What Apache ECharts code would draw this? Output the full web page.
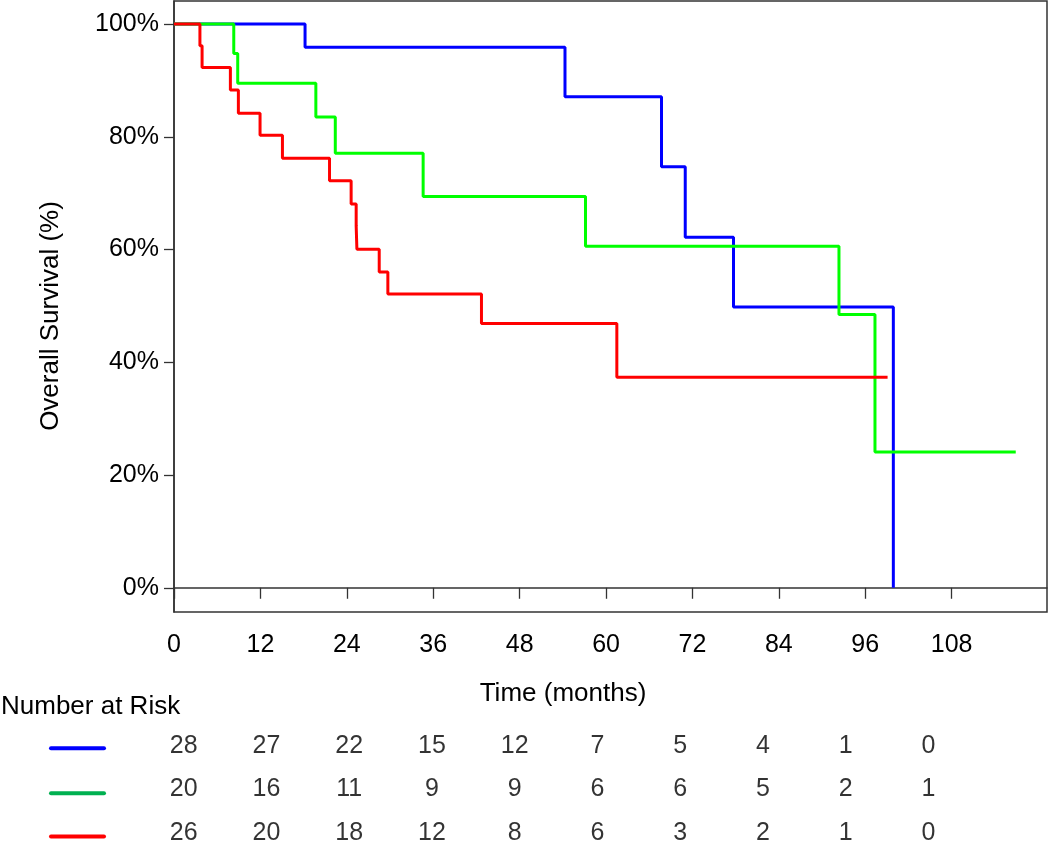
<!DOCTYPE html>
<html>
<head>
<meta charset="utf-8">
<script src="https://cdn.jsdelivr.net/npm/echarts@6/dist/echarts.min.js"></script>
<style>
  html, body { margin: 0; padding: 0; background: #fff; }
  #chart { width: 1050px; height: 841px; }
</style>
</head>
<body>
<div id="chart"></div>
<script>
// ---- Data ----
// Kaplan-Meier step points: [time (months), survival (%)]
const blueCurve = [[0,100],[18.2,95.9],[54.3,87.1],[67.7,74.7],[71.0,62.2],[77.7,49.8],[99.9,0]];
const greenCurve = [[0,100],[8.3,94.8],[8.85,89.5],[19.7,83.5],[22.4,77.1],[34.6,69.4],[57.15,60.6],[92.35,48.5],[97.35,24.1],[116.9,24.1]];
const redCurve = [[0,100],[3.6,96.15],[3.9,92.3],[7.83,88.3],[8.94,84.2],[11.95,80.3],[15.06,76.2],[21.6,72.2],[24.6,68.1],[25.3,64.2],[25.4,60.05],[28.5,56.0],[29.7,52.1],[42.7,46.9],[61.5,37.35],[99.1,37.35]];

const xTicks = [0, 12, 24, 36, 48, 60, 72, 84, 96, 108];
const yTicks = [0, 20, 40, 60, 80, 100];

const riskTimes = [0, 12, 24, 36, 48, 60, 72, 84, 96, 108];
const riskBlue  = [28, 27, 22, 15, 12, 7, 5, 4, 1, 0];
const riskGreen = [20, 16, 11, 9, 9, 6, 6, 5, 2, 1];
const riskRed   = [26, 20, 18, 12, 8, 6, 3, 2, 1, 0];

// ---- Styles ----
const FONT = '"Liberation Sans", Arial, Helvetica, sans-serif';
const AXIS_COLOR = '#333';
const colBlue = '#0000ff', colGreen = '#00ff00', colRed = '#ff0000';
const keyBlue = '#0000ff', keyGreen = '#00b050', keyRed = '#ff0000';

function riskData(vals, row) {
  return vals.map((v, i) => [riskTimes[i], row, v]);
}

function riskSeries(vals, row) {
  return {
    type: 'scatter',
    xAxisIndex: 1, yAxisIndex: 1,
    symbolSize: 0,
    silent: true,
    data: riskData(vals, row),
    label: {
      show: true, position: 'inside',
      formatter: p => String(p.value[2]),
      fontSize: 25, color: '#000', fontFamily: FONT
    }
  };
}

function kmSeries(name, data, color) {
  return {
    name, type: 'line', step: 'end', data,
    xAxisIndex: 0, yAxisIndex: 0,
    symbol: 'none',
    lineStyle: { color, width: 3 },
    silent: true
  };
}

const chart = echarts.init(document.getElementById('chart'), null, { renderer: 'canvas' });

const option = {
  animation: false,
  backgroundColor: '#fff',
  grid: [
    { left: 174, top: 1, right: 3, bottom: 229, show: true, borderColor: AXIS_COLOR, borderWidth: 1.5, backgroundColor: 'transparent' },
    { left: 183.7, width: 744.8, top: 746, height: 87 }
  ],
  xAxis: [
    {
      type: 'value', gridIndex: 0, min: 0, max: 121.24,
      axisLine: { show: true, lineStyle: { color: AXIS_COLOR, width: 1.5 } },
      axisTick: { show: true, inside: false, length: 11, customValues: xTicks, lineStyle: { color: AXIS_COLOR, width: 1.3 } },
      axisLabel: { show: true, customValues: xTicks, margin: 21, fontSize: 25, color: '#000', fontFamily: FONT },
      splitLine: { show: false }
    },
    { type: 'value', gridIndex: 1, min: 0, max: 108, show: false }
  ],
  yAxis: [
    {
      type: 'value', gridIndex: 0, min: -4.3, max: 104.1,
      axisLine: { show: true, lineStyle: { color: AXIS_COLOR, width: 1.5 } },
      axisTick: { show: true, inside: false, length: 10, customValues: yTicks, lineStyle: { color: AXIS_COLOR, width: 1.3 } },
      axisLabel: { show: true, customValues: yTicks, margin: 15, fontSize: 25, color: '#000', fontFamily: FONT, formatter: v => v + '%' },
      splitLine: { show: false }
    },
    { type: 'value', gridIndex: 1, min: 0, max: 2, inverse: true, show: false }
  ],
  series: [
    kmSeries('Blue', blueCurve, colBlue),
    kmSeries('Green', greenCurve, colGreen),
    kmSeries('Red', redCurve, colRed),
    riskSeries(riskBlue, 0),
    riskSeries(riskGreen, 1),
    riskSeries(riskRed, 2)
  ],
  graphic: [
    { type: 'text', x: 563, y: 694, style: { text: 'Time (months)', fontSize: 26, fontFamily: FONT, fill: '#000', textAlign: 'center', textVerticalAlign: 'middle' } },
    { type: 'text', x: 50.5, y: 316, rotation: Math.PI / 2, style: { text: 'Overall Survival (%)', fontSize: 26, fontFamily: FONT, fill: '#000', textAlign: 'center', textVerticalAlign: 'middle' } },
    { type: 'text', x: 1, y: 707, style: { text: 'Number at Risk', fontSize: 26, fontFamily: FONT, fill: '#000', textAlign: 'left', textVerticalAlign: 'middle' } },
    { type: 'line', shape: { x1: 51, y1: 748.3, x2: 104, y2: 748.3 }, style: { stroke: keyBlue, lineWidth: 4, lineCap: 'round' } },
    { type: 'line', shape: { x1: 51, y1: 793.3, x2: 104, y2: 793.3 }, style: { stroke: keyGreen, lineWidth: 4, lineCap: 'round' } },
    { type: 'line', shape: { x1: 51, y1: 836.5, x2: 104, y2: 836.5 }, style: { stroke: keyRed, lineWidth: 4, lineCap: 'round' } }
  ]
};

chart.setOption(option);
</script>
</body>
</html>
